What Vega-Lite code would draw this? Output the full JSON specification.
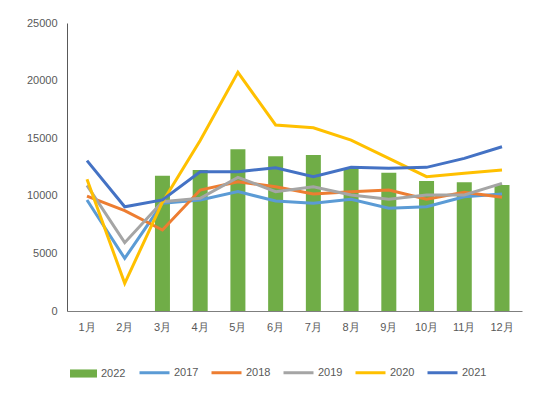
{
  "$schema": "https://vega.github.io/schema/vega-lite/v6.json",
  "width": 455,
  "height": 288,
  "autosize": {"type": "none"},
  "padding": {"left": 67, "top": 23, "right": 28, "bottom": 84},
  "background": "white",
  "config": {
    "view": {"stroke": null},
    "font": "Liberation Sans",
    "axis": {"labelColor": "#595959", "labelFontSize": 11, "grid": false, "ticks": false, "domainColor": "#595959", "title": null}
  },
  "data": {
    "values": [
      {"month": "3月", "series": "2022", "value": 11750},
      {"month": "4月", "series": "2022", "value": 12240},
      {"month": "5月", "series": "2022", "value": 14050},
      {"month": "6月", "series": "2022", "value": 13430},
      {"month": "7月", "series": "2022", "value": 13540},
      {"month": "8月", "series": "2022", "value": 12390},
      {"month": "9月", "series": "2022", "value": 12000},
      {"month": "10月", "series": "2022", "value": 11280},
      {"month": "11月", "series": "2022", "value": 11170},
      {"month": "12月", "series": "2022", "value": 10940},

      {"month": "1月", "series": "2017", "value": 9640},
      {"month": "2月", "series": "2017", "value": 4570},
      {"month": "3月", "series": "2017", "value": 9350},
      {"month": "4月", "series": "2017", "value": 9640},
      {"month": "5月", "series": "2017", "value": 10360},
      {"month": "6月", "series": "2017", "value": 9550},
      {"month": "7月", "series": "2017", "value": 9350},
      {"month": "8月", "series": "2017", "value": 9700},
      {"month": "9月", "series": "2017", "value": 8920},
      {"month": "10月", "series": "2017", "value": 9050},
      {"month": "11月", "series": "2017", "value": 9920},
      {"month": "12月", "series": "2017", "value": 10150},

      {"month": "1月", "series": "2018", "value": 9980},
      {"month": "2月", "series": "2018", "value": 8710},
      {"month": "3月", "series": "2018", "value": 7030},
      {"month": "4月", "series": "2018", "value": 10500},
      {"month": "5月", "series": "2018", "value": 11220},
      {"month": "6月", "series": "2018", "value": 10790},
      {"month": "7月", "series": "2018", "value": 10150},
      {"month": "8月", "series": "2018", "value": 10360},
      {"month": "9月", "series": "2018", "value": 10500},
      {"month": "10月", "series": "2018", "value": 9700},
      {"month": "11月", "series": "2018", "value": 10300},
      {"month": "12月", "series": "2018", "value": 9870},

      {"month": "1月", "series": "2019", "value": 10900},
      {"month": "2月", "series": "2019", "value": 5930},
      {"month": "3月", "series": "2019", "value": 9490},
      {"month": "4月", "series": "2019", "value": 9780},
      {"month": "5月", "series": "2019", "value": 11600},
      {"month": "6月", "series": "2019", "value": 10360},
      {"month": "7月", "series": "2019", "value": 10790},
      {"month": "8月", "series": "2019", "value": 10070},
      {"month": "9月", "series": "2019", "value": 9700},
      {"month": "10月", "series": "2019", "value": 10070},
      {"month": "11月", "series": "2019", "value": 10070},
      {"month": "12月", "series": "2019", "value": 11080},

      {"month": "1月", "series": "2020", "value": 11430},
      {"month": "2月", "series": "2020", "value": 2400},
      {"month": "3月", "series": "2020", "value": 9450},
      {"month": "4月", "series": "2020", "value": 14800},
      {"month": "5月", "series": "2020", "value": 20720},
      {"month": "6月", "series": "2020", "value": 16150},
      {"month": "7月", "series": "2020", "value": 15910},
      {"month": "8月", "series": "2020", "value": 14840},
      {"month": "9月", "series": "2020", "value": 13250},
      {"month": "10月", "series": "2020", "value": 11660},
      {"month": "11月", "series": "2020", "value": 11950},
      {"month": "12月", "series": "2020", "value": 12240},

      {"month": "1月", "series": "2021", "value": 13050},
      {"month": "2月", "series": "2021", "value": 9050},
      {"month": "3月", "series": "2021", "value": 9640},
      {"month": "4月", "series": "2021", "value": 12090},
      {"month": "5月", "series": "2021", "value": 12090},
      {"month": "6月", "series": "2021", "value": 12440},
      {"month": "7月", "series": "2021", "value": 11660},
      {"month": "8月", "series": "2021", "value": 12470},
      {"month": "9月", "series": "2021", "value": 12390},
      {"month": "10月", "series": "2021", "value": 12470},
      {"month": "11月", "series": "2021", "value": 13250},
      {"month": "12月", "series": "2021", "value": 14260}
    ]
  },
  "encoding": {
    "x": {
      "field": "month", "type": "ordinal",
      "sort": ["1月","2月","3月","4月","5月","6月","7月","8月","9月","10月","11月","12月"],
      "scale": {"paddingInner": 0, "paddingOuter": 0.03},
      "axis": {"labelAngle": 0, "labelPadding": 10, "domainColor": "#7f7f7f"}
    },
    "y": {
      "field": "value", "type": "quantitative",
      "scale": {"domain": [0, 25000]},
      "axis": {"values": [0, 5000, 10000, 15000, 20000, 25000], "format": "d", "labelPadding": 10, "domainColor": "#595959"}
    }
  },
  "layer": [
    {
      "transform": [{"filter": "datum.series === '2022'"}],
      "mark": {"type": "bar", "size": 15},
      "encoding": {
        "fill": {
          "field": "series", "type": "nominal",
          "scale": {"domain": ["2022"], "range": ["#70AD47"]},
          "legend": {"title": null, "orient": "none", "legendX": 2, "legendY": 336, "symbolType": "M-1,-0.3H1V0.3H-1Z", "symbolSize": 729, "labelFontSize": 11, "labelColor": "#595959", "labelOffset": 3, "direction": "horizontal"}
        }
      }
    },
    {
      "transform": [{"filter": "datum.series !== '2022'"}],
      "mark": {"type": "line", "strokeWidth": 3},
      "encoding": {
        "stroke": {
          "field": "series", "type": "nominal",
          "scale": {"domain": ["2017","2018","2019","2020","2021"], "range": ["#5B9BD5","#ED7D31","#A5A5A5","#FFC000","#4472C4"]},
          "legend": {"title": null, "orient": "none", "legendX": 71, "legendY": 333, "direction": "horizontal", "symbolType": "stroke", "symbolStrokeWidth": 3, "symbolSize": 900, "labelFontSize": 11, "labelColor": "#595959", "labelOffset": 3, "columnPadding": 6}
        }
      }
    }
  ]
}
